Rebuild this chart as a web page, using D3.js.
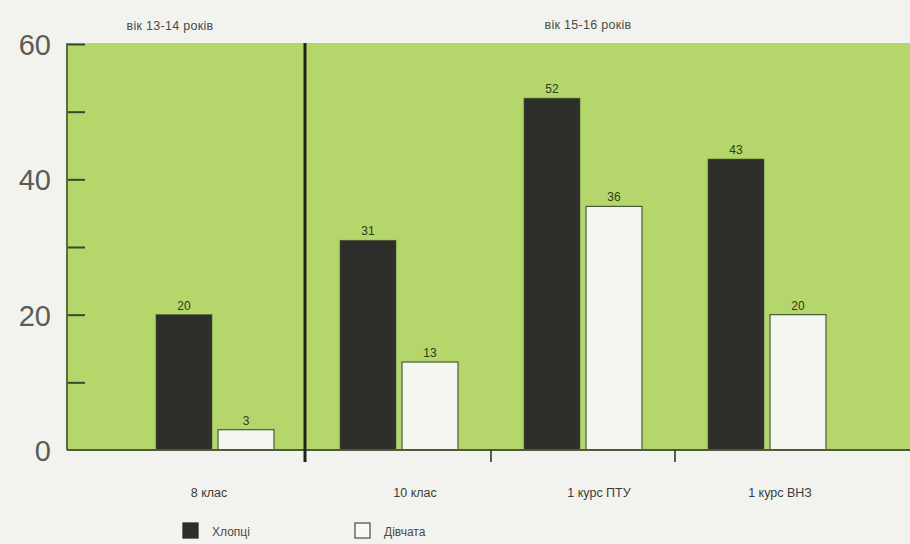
<!DOCTYPE html>
<html>
<head>
<meta charset="utf-8">
<script src="https://cdn.jsdelivr.net/npm/d3@7"></script>
<style>
  html, body { margin: 0; padding: 0; background: #f2f3ee; }
  svg { display: block; }
</style>
</head>
<body>
<svg id="chart" width="910" height="544"></svg>
<script>
// Data
const categories = ["8 клас", "10 клас", "1 курс ПТУ", "1 курс ВНЗ"];
const series = ["Хлопці", "Дівчата"];
const boys = [20, 31, 52, 43];
const girls = [3, 13, 36, 20];
const yTickLabels = [0, 20, 40, 60];
const yMinorTicks = [10, 20, 30, 40, 50, 60];
const ageGroups = ["вік 13-14 років", "вік 15-16 років"];

const values = [boys, girls];
const colors = { "Хлопці": "#2d2d29", "Дівчата": "#f4f6f0" };

const svg = d3.select("#chart");
const W = 910, H = 544;

const plotLeft = 67, plotRight = 910, plotTop = 43, plotBottom = 450;
const font = "'Liberation Sans', Arial, sans-serif";

const y = d3.scaleLinear().domain([0, 60]).range([plotBottom, plotTop + 1]);
const x0 = d3.scaleBand().domain(categories).range([123, 859]).padding(0);
const x1 = d3.scaleBand().domain(series).range([0, x0.bandwidth()])
  .paddingInner(0.097).paddingOuter(0.532);

// Page background
svg.append("rect").attr("width", W).attr("height", H).attr("fill", "#f2f3ee");

// Green plot panel
svg.append("rect")
  .attr("x", plotLeft).attr("y", plotTop)
  .attr("width", plotRight - plotLeft).attr("height", plotBottom - plotTop)
  .attr("fill", "#b4d66b");

// Bars
const groups = svg.append("g").selectAll("g")
  .data(categories)
  .join("g")
  .attr("transform", d => `translate(${x0(d)},0)`);

const cells = (d, i) => series.map((s, k) => ({ s, v: values[k][i] }));

groups.selectAll("rect")
  .data(cells)
  .join("rect")
  .attr("x", d => x1(d.s))
  .attr("y", d => y(d.v))
  .attr("width", x1.bandwidth())
  .attr("height", d => y(0) - y(d.v))
  .attr("fill", d => colors[d.s])
  .attr("stroke", "#4c5a3a")
  .attr("stroke-width", d => d.s === "Дівчата" ? 1.2 : 0.6);

// Value labels
groups.selectAll("text")
  .data(cells)
  .join("text")
  .attr("x", d => x1(d.s) + x1.bandwidth() / 2)
  .attr("y", d => y(d.v) - 5)
  .attr("text-anchor", "middle")
  .attr("font-family", font)
  .attr("font-size", 12)
  .attr("fill", "#2f3a22")
  .text(d => d.v);

// Left axis with inward minor ticks
const yAxis = d3.axisRight(y).tickValues(yMinorTicks).tickSize(18).tickFormat("");
const yAx = svg.append("g").attr("transform", `translate(${plotLeft},0)`).call(yAxis);
yAx.select(".domain").remove();
yAx.selectAll(".tick line").attr("stroke", "#3b4a25").attr("stroke-width", 2);

svg.append("line")
  .attr("x1", plotLeft).attr("x2", plotLeft)
  .attr("y1", plotTop).attr("y2", plotBottom)
  .attr("stroke", "#5a6b3c").attr("stroke-width", 2);

// Left tick labels
svg.append("g").selectAll("text")
  .data(yTickLabels)
  .join("text")
  .attr("x", 51)
  .attr("y", d => y(d) + 11)
  .attr("text-anchor", "end")
  .attr("font-family", font)
  .attr("font-size", 29)
  .attr("fill", "#5a5b56")
  .text(d => d);

// Bottom axis line and boundary ticks between categories
const boundaries = categories.slice(1).map(c => x0(c));

svg.append("line")
  .attr("x1", plotLeft).attr("x2", plotRight)
  .attr("y1", plotBottom).attr("y2", plotBottom)
  .attr("stroke", "#4f5a3c").attr("stroke-width", 2);

svg.append("g").selectAll("line")
  .data(boundaries.slice(1))
  .join("line")
  .attr("x1", d => d).attr("x2", d => d)
  .attr("y1", plotBottom).attr("y2", plotBottom + 12)
  .attr("stroke", "#2b2b28").attr("stroke-width", 1.5);

// Age-group divider
svg.append("line")
  .attr("x1", boundaries[0] - 2).attr("x2", boundaries[0] - 2)
  .attr("y1", plotTop).attr("y2", plotBottom + 12)
  .attr("stroke", "#1f231a").attr("stroke-width", 3);

// Category labels, set slightly right of each group's centre
const labelShift = [-6, 16, 16, 13];
svg.append("g").selectAll("text")
  .data(categories)
  .join("text")
  .attr("x", (d, i) => x0(d) + x0.bandwidth() / 2 + labelShift[i])
  .attr("y", 497)
  .attr("text-anchor", "middle")
  .attr("font-family", font)
  .attr("font-size", 12.5)
  .attr("fill", "#3c3c38")
  .text(d => d);

// Age group labels
svg.append("g").selectAll("text")
  .data(ageGroups)
  .join("text")
  .attr("x", (d, i) => i === 0 ? 170 : 588)
  .attr("y", (d, i) => i === 0 ? 30 : 29)
  .attr("text-anchor", "middle")
  .attr("font-family", font)
  .attr("font-size", 12.5)
  .attr("letter-spacing", 0.3)
  .attr("fill", "#4a4a46")
  .text(d => d);

// Legend
const legend = svg.append("g").selectAll("g")
  .data(series)
  .join("g")
  .attr("transform", (d, i) => `translate(${i === 0 ? 183 : 355},523)`);

legend.append("rect")
  .attr("width", 15).attr("height", 15)
  .attr("fill", d => d === "Хлопці" ? "#2d2d29" : "#f8f8f5")
  .attr("stroke", d => d === "Хлопці" ? "#2d2d29" : "#555")
  .attr("stroke-width", 1.3);

legend.append("text")
  .attr("x", 29).attr("y", 12.5)
  .attr("font-family", font)
  .attr("font-size", 12)
  .attr("fill", "#4a4a46")
  .text(d => d);
</script>
</body>
</html>
